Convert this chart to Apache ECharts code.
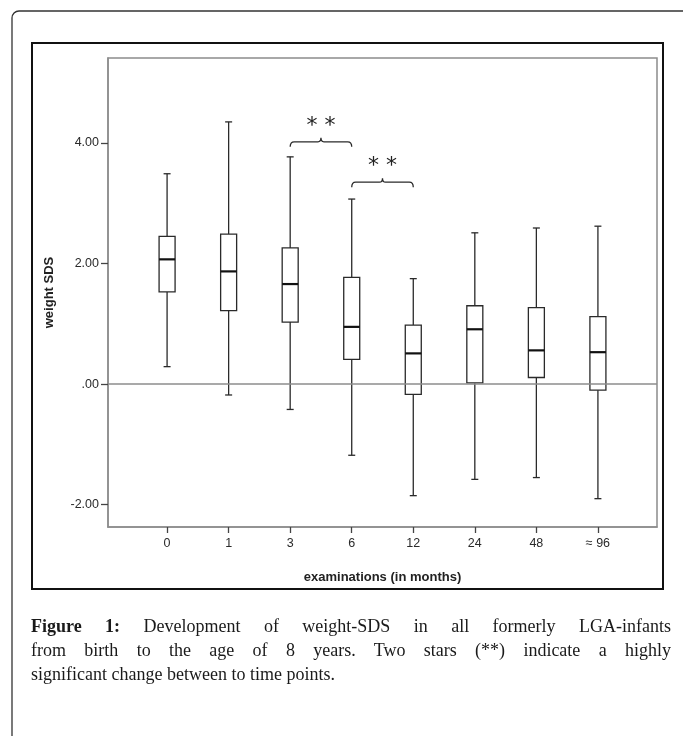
<!DOCTYPE html>
<html>
<head>
<meta charset="utf-8">
<script src="https://cdn.jsdelivr.net/npm/echarts@6/dist/echarts.min.js"></script>
<style>
  html, body { margin: 0; padding: 0; background: #fff; }
  #chart { position: absolute; left: 0; top: 0; width: 683px; height: 736px; }
  #caption { position: absolute; left: 31px; top: 614px; width: 640px;
    font-family: "Liberation Serif", "DejaVu Serif", serif; font-size: 18px; line-height: 24px; color: #1a1a1a; }
  #caption div.j { text-align: justify; text-align-last: justify; white-space: nowrap; }
  #caption b { font-weight: bold; }
</style>
</head>
<body>
<div id="chart"></div>
<div id="caption">
  <div class="j" id="l1"></div>
  <div class="j" id="l2"></div>
  <div id="l3"></div>
</div>
<script>
// ---- data ----
const categories   = ['0', '1', '3', '6', '12', '24', '48', '≈ 96'];
const whiskerLow   = [0.29, -0.18, -0.42, -1.18, -1.85, -1.58, -1.55, -1.90];
const quartile1    = [1.53, 1.22, 1.03, 0.41, -0.17, 0.02, 0.11, -0.10];
const medians      = [2.07, 1.87, 1.66, 0.95, 0.51, 0.91, 0.56, 0.53];
const quartile3    = [2.45, 2.49, 2.26, 1.77, 0.98, 1.30, 1.27, 1.12];
const whiskerHigh  = [3.49, 4.35, 3.77, 3.07, 1.75, 2.51, 2.59, 2.62];
const yTickValues  = [-2, 0, 2, 4];
const yTickLabels  = ['-2.00', '.00', '2.00', '4.00'];
// significance brackets (category index from / to, bracket level, star level)
const bracketFrom  = [2, 3];
const bracketTo    = [3, 4];
const bracketLevel = [4.02, 3.35];
const starLevel    = [4.34, 3.68];
const starText     = ['* *', '* *'];
const yAxisTitle   = 'weight SDS';
const xAxisTitle   = 'examinations (in months)';
const captionLines = [
  '<b>Figure 1:</b> Development of weight-SDS in all formerly LGA-infants',
  'from birth to the age of 8 years. Two stars (**) indicate a highly',
  'significant change between to time points.'
];

document.getElementById('l1').innerHTML = captionLines[0];
document.getElementById('l2').textContent = captionLines[1];
document.getElementById('l3').textContent = captionLines[2];

const boxData = categories.map((c, i) => [i, whiskerLow[i], quartile1[i], medians[i], quartile3[i], whiskerHigh[i]]);
const bracketData = bracketFrom.map((f, i) => [f, bracketTo[i], bracketLevel[i], starLevel[i], i]);

const chart = echarts.init(document.getElementById('chart'), null, { renderer: 'canvas' });
const axisFont = '"Liberation Sans", Arial, sans-serif';
const gridLeft = 108, gridTop = 58, gridW = 549, gridH = 469;

function renderBox(params, api) {
  const i = api.value(0);
  const pLow = api.coord([i, api.value(1)]);
  const pQ1 = api.coord([i, api.value(2)]);
  const pMed = api.coord([i, api.value(3)]);
  const pQ3 = api.coord([i, api.value(4)]);
  const pHigh = api.coord([i, api.value(5)]);
  const cx = pMed[0], hw = 8, cap = 3.5;
  const st = { stroke: '#2a2a2a', lineWidth: 1.3, fill: null };
  return {
    type: 'group',
    children: [
      { type: 'line', shape: { x1: cx, y1: pQ3[1], x2: cx, y2: pHigh[1] }, style: st },
      { type: 'line', shape: { x1: cx - cap, y1: pHigh[1], x2: cx + cap, y2: pHigh[1] }, style: st },
      { type: 'line', shape: { x1: cx, y1: pQ1[1], x2: cx, y2: pLow[1] }, style: st },
      { type: 'line', shape: { x1: cx - cap, y1: pLow[1], x2: cx + cap, y2: pLow[1] }, style: st },
      { type: 'rect', shape: { x: cx - hw, y: pQ3[1], width: 2 * hw, height: pQ1[1] - pQ3[1] }, style: st },
      { type: 'line', shape: { x1: cx - hw, y1: pMed[1], x2: cx + hw, y2: pMed[1] }, style: { stroke: '#111', lineWidth: 2.2 } }
    ]
  };
}

function renderBracket(params, api) {
  const a = api.coord([api.value(0), api.value(2)]);
  const b = api.coord([api.value(1), api.value(2)]);
  const s = api.coord([(api.value(0) + api.value(1)) / 2, api.value(3)]);
  const x1 = a[0], x2 = b[0], y = a[1], xm = (x1 + x2) / 2;
  const path = `M${x1},${y + 5} Q${x1},${y} ${x1 + 4},${y} L${xm - 3},${y} Q${xm},${y} ${xm},${y - 4} Q${xm},${y} ${xm + 3},${y} L${x2 - 4},${y} Q${x2},${y} ${x2},${y + 5}`;
  return {
    type: 'group',
    children: [
      { type: 'path', shape: { pathData: path }, style: { stroke: '#2a2a2a', lineWidth: 1.3, fill: null } },
      { type: 'text', style: { text: starText[api.value(4)], x: s[0], y: s[1] + 4, align: 'center', verticalAlign: 'middle',
          font: '22px "DejaVu Sans", sans-serif', fill: '#222' } }
    ]
  };
}

chart.setOption({
  animation: false,
  backgroundColor: '#fff',
  grid: { left: gridLeft, top: gridTop, width: gridW, height: gridH, show: true, borderColor: '#8c8c8c', borderWidth: 1.5, containLabel: false },
  xAxis: {
    type: 'value', min: -0.96, max: 7.96,
    name: xAxisTitle, nameLocation: 'middle', nameGap: 44,
    nameTextStyle: { fontFamily: axisFont, fontWeight: 'bold', fontSize: 13, color: '#222' },
    axisLine: { show: true, onZero: false, lineStyle: { color: '#8c8c8c', width: 1.5 } },
    axisTick: { show: true, length: 6, customValues: categories.map((c, i) => i), lineStyle: { color: '#444', width: 1.3 } },
    axisLabel: { customValues: categories.map((c, i) => i), formatter: v => categories[Math.round(v)], margin: 10,
      fontFamily: axisFont, fontSize: 12.5, color: '#2a2a2a' },
    splitLine: { show: false }
  },
  yAxis: {
    type: 'value', min: -2.37, max: 5.41,
    name: yAxisTitle, nameLocation: 'middle', nameGap: 52, nameRotate: 90,
    nameTextStyle: { fontFamily: axisFont, fontWeight: 'bold', fontSize: 13, color: '#222' },
    axisLine: { show: true, onZero: false, lineStyle: { color: '#8c8c8c', width: 1.5 } },
    axisTick: { show: true, length: 7, customValues: yTickValues, lineStyle: { color: '#444', width: 1.3 } },
    axisLabel: { customValues: yTickValues, formatter: v => yTickLabels[yTickValues.indexOf(Math.round(v))], margin: 9,
      fontFamily: axisFont, fontSize: 12.5, color: '#2a2a2a' },
    splitLine: { show: false }
  },
  graphic: [
    { type: 'rect', shape: { x: 12, y: 11, width: 690, height: 760, r: 7 }, style: { fill: null, stroke: '#333', lineWidth: 1.3 }, z: 100 },
    { type: 'rect', shape: { x: 32, y: 43, width: 631, height: 546 }, style: { fill: null, stroke: '#111', lineWidth: 2 }, z: 100 }
  ],
  series: [
    {
      type: 'custom', name: 'box', renderItem: renderBox, data: boxData, z: 3,
      encode: { x: 0, y: [1, 2, 3, 4, 5] },
      markLine: { silent: true, symbol: 'none', label: { show: false },
        lineStyle: { color: '#8c8c8c', width: 1.5, type: 'solid' }, data: [{ yAxis: 0 }] }
    },
    {
      type: 'custom', name: 'brackets', renderItem: renderBracket, data: bracketData, z: 4,
      encode: { x: [0, 1], y: [2, 3] }
    }
  ]
});
</script>
</body>
</html>
